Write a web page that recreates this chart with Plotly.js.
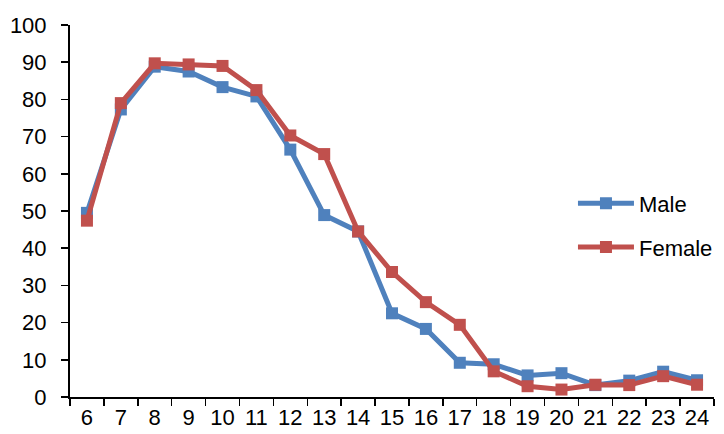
<!DOCTYPE html>
<html>
<head>
<meta charset="utf-8">
<script src="https://cdn.plot.ly/plotly-3.0.1.min.js"></script>
<style>
  html, body { margin: 0; padding: 0; background: #ffffff; }
  #chart { width: 724px; height: 434px; }
</style>
</head>
<body>
<div id="chart"></div>
<script>
// Age (years) along the x axis
const ages = ['6', '7', '8', '9', '10', '11', '12', '13', '14', '15',
              '16', '17', '18', '19', '20', '21', '22', '23', '24'];

// Percentages per age
const maleValues = [49.5, 77.3, 88.8, 87.5, 83.3, 80.8, 66.5, 48.9, 44.5, 22.5,
                    18.3, 9.2, 8.8, 5.8, 6.4, 3.2, 4.4, 6.8, 4.5];
const femaleValues = [47.4, 79.0, 89.7, 89.4, 89.0, 82.5, 70.3, 65.3, 44.5, 33.6,
                      25.5, 19.4, 6.9, 2.9, 2.0, 3.3, 3.2, 5.6, 3.3];

const seriesNames = ['Male', 'Female'];
const seriesColors = ['#4F81BD', '#C0504D'];

const fontFamily = '"Liberation Sans", Arial, sans-serif';
const fontSize = 22;

function lineTrace(name, values, color) {
  return {
    type: 'scatter',
    mode: 'lines+markers',
    name: name,
    legendgroup: name,
    x: ages,
    y: values,
    line: { color: color, width: 5 },
    marker: { symbol: 'square', size: 12, color: color, line: { width: 0 } },
    hoverinfo: 'x+y+name'
  };
}

const data = [
  lineTrace(seriesNames[0], maleValues, seriesColors[0]),
  lineTrace(seriesNames[1], femaleValues, seriesColors[1])
];

const layout = {
  width: 724,
  height: 434,
  margin: { l: 70, r: 6, t: 25, b: 37, pad: 0 },
  paper_bgcolor: '#ffffff',
  plot_bgcolor: '#ffffff',
  font: { family: fontFamily, size: fontSize, color: '#000000' },
  showlegend: true,
  legend: {
    x: 0.781,
    y: 0.461,
    xanchor: 'left',
    yanchor: 'middle',
    bgcolor: 'rgba(0,0,0,0)',
    font: { family: fontFamily, size: fontSize, color: '#000000' },
    tracegroupgap: 12,
    itemwidth: 56
  },
  xaxis: {
    type: 'category',
    range: [-0.5, 18.5],
    showgrid: false,
    zeroline: false,
    showline: true,
    linecolor: '#000000',
    linewidth: 2,
    ticks: 'outside',
    tickson: 'boundaries',
    ticklen: 7,
    tickwidth: 1.5,
    tickcolor: '#000000',
    tickangle: 0,
    ticklabelstandoff: 0,
    tickfont: { family: fontFamily, size: fontSize, color: '#000000' },
    fixedrange: true
  },
  yaxis: {
    range: [0, 100],
    dtick: 10,
    tick0: 0,
    showgrid: false,
    zeroline: false,
    showline: true,
    linecolor: '#000000',
    linewidth: 2,
    ticks: 'outside',
    ticklen: 7,
    tickwidth: 1.5,
    tickcolor: '#000000',
    ticklabelstandoff: 10,
    tickfont: { family: fontFamily, size: fontSize, color: '#000000' },
    fixedrange: true
  }
};

Plotly.newPlot('chart', data, layout, { displayModeBar: false, staticPlot: true });
</script>
</body>
</html>
